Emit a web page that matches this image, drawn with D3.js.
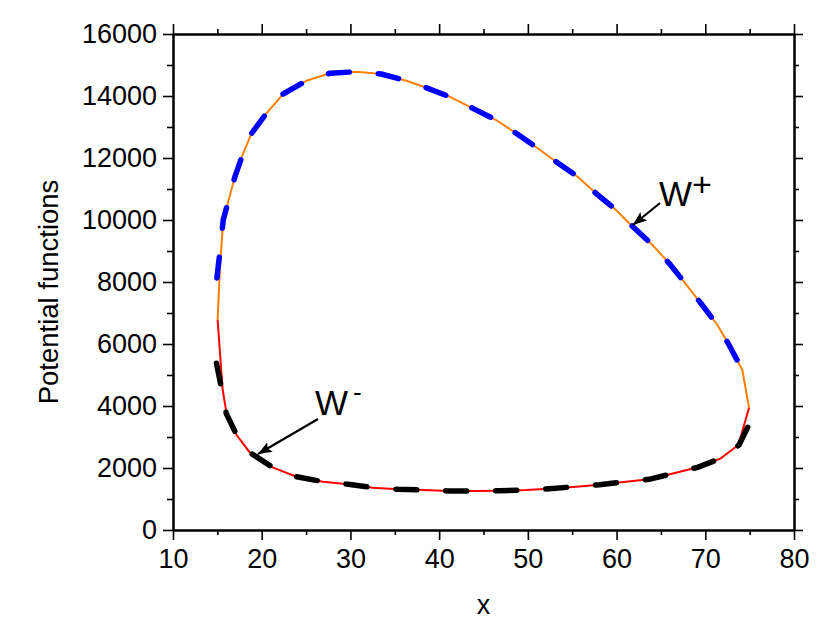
<!DOCTYPE html>
<html>
<head>
<meta charset="utf-8">
<script src="https://cdn.jsdelivr.net/npm/d3@7"></script>
<style>
  html, body { margin: 0; padding: 0; background: #fff; }
  svg { display: block; font-family: "Liberation Sans", Arial, Helvetica, sans-serif; }
</style>
</head>
<body>
<svg id="chart" width="830" height="642"></svg>
<script>
// ---- Data ----
// W+ solid (orange)
const wPlusX = [15.03, 15.3, 15.66, 16.22, 16.98, 17.91, 18.86, 20.54, 22.41, 25.05, 27.67, 30.67, 33.48, 36.3, 38.73, 41.17, 43.8, 46.43, 48.68, 51.11, 53.18, 55.61, 57.68, 59.93, 61.62, 64.05, 65.93, 67.43, 69.5, 71.37, 72.68, 74.18, 74.93];
const wPlusY = [6774, 8500, 10000, 10590, 11397, 12152, 12797, 13442, 14065, 14494, 14732, 14784, 14710, 14494, 14248, 13977, 13602, 13226, 12797, 12313, 11881, 11397, 10861, 10323, 9839, 9194, 8603, 8065, 7313, 6613, 5968, 5161, 3945];
// W- solid (red)
const wMinusX = [15.03, 15.6, 16.04, 17.17, 18.67, 21.29, 23.92, 26.91, 29.73, 32.54, 35.35, 38.17, 41.17, 43.99, 46.8, 49.8, 52.43, 55.43, 58.05, 61.06, 63.68, 66.69, 69.14, 71.75, 73.73, 74.93];
const wMinusY = [6774, 4516, 3763, 3065, 2495, 2011, 1720, 1559, 1473, 1366, 1312, 1290, 1262, 1258, 1269, 1290, 1333, 1398, 1462, 1559, 1635, 1849, 2022, 2312, 2742, 3945];
// W+ dashed (blue)
const wPlusDashX = [14.95, 15.3, 15.66, 16.22, 16.98, 17.91, 18.86, 20.54, 22.41, 25.05, 27.67, 30.67, 33.48, 36.3, 38.73, 41.17, 43.8, 46.43, 48.68, 51.11, 53.18, 55.61, 57.68, 59.93, 61.62, 64.05, 65.93, 67.43, 69.5, 71.37, 72.68, 74.18];
const wPlusDashY = [8130, 9000, 10000, 10590, 11397, 12152, 12797, 13442, 14065, 14494, 14732, 14784, 14710, 14494, 14248, 13977, 13602, 13226, 12797, 12313, 11881, 11397, 10861, 10323, 9839, 9194, 8603, 8065, 7313, 6613, 5968, 5161];
// W- dashed (black)
const wMinusDashX = [14.9, 15.5, 16.0, 17.17, 18.67, 21.29, 23.92, 26.91, 29.73, 32.54, 35.35, 38.17, 41.17, 43.99, 46.8, 49.8, 52.43, 55.43, 58.05, 61.06, 63.68, 66.69, 69.14, 71.75, 73.8, 75.0];
const wMinusDashY = [5380, 4516, 3763, 3065, 2495, 2011, 1720, 1559, 1473, 1366, 1312, 1290, 1262, 1258, 1269, 1290, 1333, 1398, 1462, 1559, 1635, 1849, 2022, 2312, 2742, 3440];

const xMajor = [10, 20, 30, 40, 50, 60, 70, 80];
const xMinor = [15, 25, 35, 45, 55, 65, 75];
const yMajor = [0, 2000, 4000, 6000, 8000, 10000, 12000, 14000, 16000];
const yMinor = [1000, 3000, 5000, 7000, 9000, 11000, 13000, 15000];

// ---- Layout ----
const svg = d3.select("#chart");
const L = 173, R = 794, T = 34, B = 530;
const x = d3.scaleLinear().domain([10, 80]).range([L, R]);
const y = d3.scaleLinear().domain([0, 16000]).range([B, T]);

const zip = (xs, ys) => xs.map((v, i) => [v, ys[i]]);
const line = d3.line().x(d => x(d[0])).y(d => y(d[1])).curve(d3.curveLinear);

// ---- Curves ----
svg.append("path").datum(zip(wPlusX, wPlusY)).attr("d", line)
  .attr("fill", "none").attr("stroke", "#FF8000").attr("stroke-width", 2);
svg.append("path").datum(zip(wMinusX, wMinusY)).attr("d", line)
  .attr("fill", "none").attr("stroke", "#FF0000").attr("stroke-width", 2);
svg.append("path").datum(zip(wPlusDashX, wPlusDashY)).attr("d", line)
  .attr("fill", "none").attr("stroke", "#0000FF").attr("stroke-width", 5.5)
  .attr("stroke-linecap", "round").attr("stroke-dasharray", "21,29");
svg.append("path").datum(zip(wMinusDashX, wMinusDashY)).attr("d", line)
  .attr("fill", "none").attr("stroke", "#000000").attr("stroke-width", 5.5)
  .attr("stroke-linecap", "round").attr("stroke-dasharray", "21,29");

// ---- Axes ----
function styleAxis(g) {
  g.selectAll(".domain").attr("stroke", "#000").attr("stroke-width", 2);
  g.selectAll(".tick line").attr("stroke", "#000").attr("stroke-width", 1.6);
  g.selectAll("text").attr("fill", "#000").attr("font-size", 27)
    .attr("font-family", "'Liberation Sans', Arial, Helvetica, sans-serif");
}
// bottom
svg.append("g").attr("transform", `translate(0,${B})`)
  .call(d3.axisBottom(x).tickValues(xMinor).tickSize(5).tickSizeOuter(0).tickFormat(""))
  .call(styleAxis);
svg.append("g").attr("transform", `translate(0,${B})`)
  .call(d3.axisBottom(x).tickValues(xMajor).tickSize(10).tickSizeOuter(0).tickPadding(9).tickFormat(d3.format("d")))
  .call(styleAxis);
// top
svg.append("g").attr("transform", `translate(0,${T})`)
  .call(d3.axisTop(x).tickValues(xMinor).tickSize(5).tickSizeOuter(0).tickFormat(""))
  .call(styleAxis);
svg.append("g").attr("transform", `translate(0,${T})`)
  .call(d3.axisTop(x).tickValues(xMajor).tickSize(10).tickSizeOuter(0).tickFormat(""))
  .call(styleAxis);
// left
svg.append("g").attr("transform", `translate(${L},0)`)
  .call(d3.axisLeft(y).tickValues(yMinor).tickSize(6).tickSizeOuter(0).tickFormat(""))
  .call(styleAxis);
svg.append("g").attr("transform", `translate(${L},0)`)
  .call(d3.axisLeft(y).tickValues(yMajor).tickSize(10).tickSizeOuter(0).tickPadding(6).tickFormat(d3.format("d")))
  .call(styleAxis);
// right
svg.append("g").attr("transform", `translate(${R},0)`)
  .call(d3.axisRight(y).tickValues(yMinor).tickSize(5).tickSizeOuter(0).tickFormat(""))
  .call(styleAxis);
svg.append("g").attr("transform", `translate(${R},0)`)
  .call(d3.axisRight(y).tickValues(yMajor).tickSize(9).tickSizeOuter(0).tickFormat(""))
  .call(styleAxis);

// ---- Axis titles ----
svg.append("text").attr("x", (L + R) / 2).attr("y", 614)
  .attr("text-anchor", "middle").attr("font-size", 27).text("x");
svg.append("text").attr("transform", "translate(58,292) rotate(-90)")
  .attr("text-anchor", "middle").attr("font-size", 27.5).text("Potential functions");

// ---- Annotations ----
const defs = svg.append("defs");
defs.append("marker").attr("id", "arrow").attr("viewBox", "0 0 14 11")
  .attr("refX", 14).attr("refY", 5.5).attr("markerWidth", 14).attr("markerHeight", 11)
  .attr("markerUnits", "userSpaceOnUse").attr("orient", "auto")
  .append("path").attr("d", "M0,0 L14,5.5 L0,11 L3,5.5 Z").attr("fill", "#000");

svg.append("line").attr("x1", 660).attr("y1", 203).attr("x2", 633).attr("y2", 225)
  .attr("stroke", "#000").attr("stroke-width", 2.2).attr("marker-end", "url(#arrow)");
svg.append("line").attr("x1", 318).attr("y1", 419).attr("x2", 258).attr("y2", 454)
  .attr("stroke", "#000").attr("stroke-width", 2.2).attr("marker-end", "url(#arrow)");

const wp = svg.append("text").attr("x", 659).attr("y", 206).attr("font-size", 35);
wp.append("tspan").text("W");
wp.append("tspan").attr("dy", -10).attr("font-size", 34).text("+");

const wm = svg.append("text").attr("x", 315).attr("y", 415).attr("font-size", 35);
wm.append("tspan").text("W");
wm.append("tspan").attr("dy", -14).attr("dx", 5).attr("font-size", 26).text("-");
</script>
</body>
</html>
